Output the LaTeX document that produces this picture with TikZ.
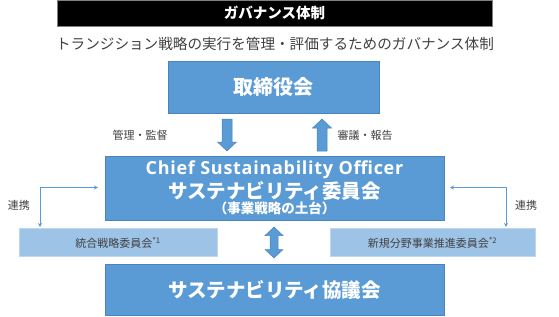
\documentclass[tikz,border=0pt]{standalone}
\usepackage{fontspec}
\setmainfont{Noto Sans CJK JP}
\newfontfamily\latinfont[LetterSpace=4]{Open Sans}
\usetikzlibrary{arrows.meta}
\definecolor{mainblue}{HTML}{5B9BD5}
\definecolor{lightblue}{HTML}{9DC3E6}
\definecolor{edgeblue}{HTML}{4A84BE}
\definecolor{lightedge}{HTML}{BDD7EE}
\definecolor{txtgray}{HTML}{404040}
\newcommand{\fs}[1]{\fontsize{#1}{#1}\selectfont}
\tikzset{
  mainbox/.style={draw=edgeblue, line width=0.6pt, fill=mainblue, inner sep=0pt},
  subbox/.style={draw=lightedge, line width=0.6pt, fill=lightblue, inner sep=0pt, text=txtgray, font=\fs{11}},
  whitetxt/.style={text=white, font=\bfseries, inner sep=0pt},
  graytxt/.style={text=txtgray, inner sep=0pt},
  blockarrow/.style={fill=mainblue, draw=edgeblue, line width=0.5pt, line join=miter},
  conn/.style={draw=mainblue, line width=0.8pt, {Stealth[length=4pt,width=4pt]}-{Stealth[length=4pt,width=4pt]}}
}
\begin{document}
\begin{tikzpicture}[x=1pt,y=-1pt]
\useasboundingbox (0,0) rectangle (559,316);
% title bar
\node[draw=gray, line width=0.6pt, fill=black, minimum width=435pt, minimum height=26pt, inner sep=0pt] (title) at (274.5,13) {};
\node[whitetxt, font=\fs{14.5}\bfseries] (titletxt) at (title.center) {ガバナンス体制};
\node[graytxt, font=\fs{14.6}] (subtitle) at (275,44) {トランジション戦略の実行を管理・評価するためのガバナンス体制};
% boards
\node[mainbox, minimum width=211pt, minimum height=52pt] (board) at (273.5,87) {};
\node[whitetxt, font=\fs{20}\bfseries] (boardtxt) at (board.center) {取締役会};
\node[mainbox, minimum width=339pt, minimum height=64pt] (cso) at (274.5,188) {};
\node[whitetxt, font=\latinfont\fs{18}\bfseries] (cso1) at (274.5,169.5) {Chief Sustainability Officer};
\node[whitetxt, font=\fs{19.5}\bfseries] (cso2) at (274.5,190.5) {サステナビリティ委員会};
\node[whitetxt, font=\fs{13.5}\bfseries] (cso3) at (274.5,208.5) {（事業戦略の土台）};
\node[mainbox, minimum width=339pt, minimum height=51pt] (council) at (274.5,289.5) {};
\node[whitetxt, font=\fs{19.5}\bfseries] (counciltxt) at (council.center) {サステナビリティ協議会};
\node[subbox, minimum width=198pt, minimum height=28pt] (integ) at (118,242.5) {統合戦略委員会\textsuperscript{*1}};
\node[subbox, minimum width=205pt, minimum height=28pt] (newbiz) at (432.5,242.5) {新規分野事業推進委員会\textsuperscript{*2}};
% labels
\node[graytxt, font=\fs{11}] (lbl1) at (140,135) {管理・監督};
\node[graytxt, font=\fs{11}] (lbl2) at (365,135) {審議・報告};
\node[graytxt, font=\fs{11}] (lbl3) at (19,205) {連携};
\node[graytxt, font=\fs{11}] (lbl4) at (526,205) {連携};
% block arrows
\draw[blockarrow] (222,119) -- (232,119) -- (232,142) -- (236.5,142) -- (227,151) -- (217.5,142) -- (222,142) -- cycle;
\draw[blockarrow] (322,119) -- (331.5,128) -- (327,128) -- (327,151) -- (317,151) -- (317,128) -- (312.5,128) -- cycle;
\draw[blockarrow] (274,227) -- (283,235.5) -- (278,235.5) -- (278,249.5) -- (283,249.5) -- (274,258) -- (265,249.5) -- (270,249.5) -- (270,235.5) -- (265,235.5) -- cycle;
% connectors
\coordinate (la) at (40,227);
\coordinate (lb) at (98,187.5);
\coordinate (ra) at (506,227);
\coordinate (rb) at (450,187.5);
\draw[conn] (la) |- (lb);
\draw[conn] (ra) |- (rb);
\end{tikzpicture}
\end{document}
